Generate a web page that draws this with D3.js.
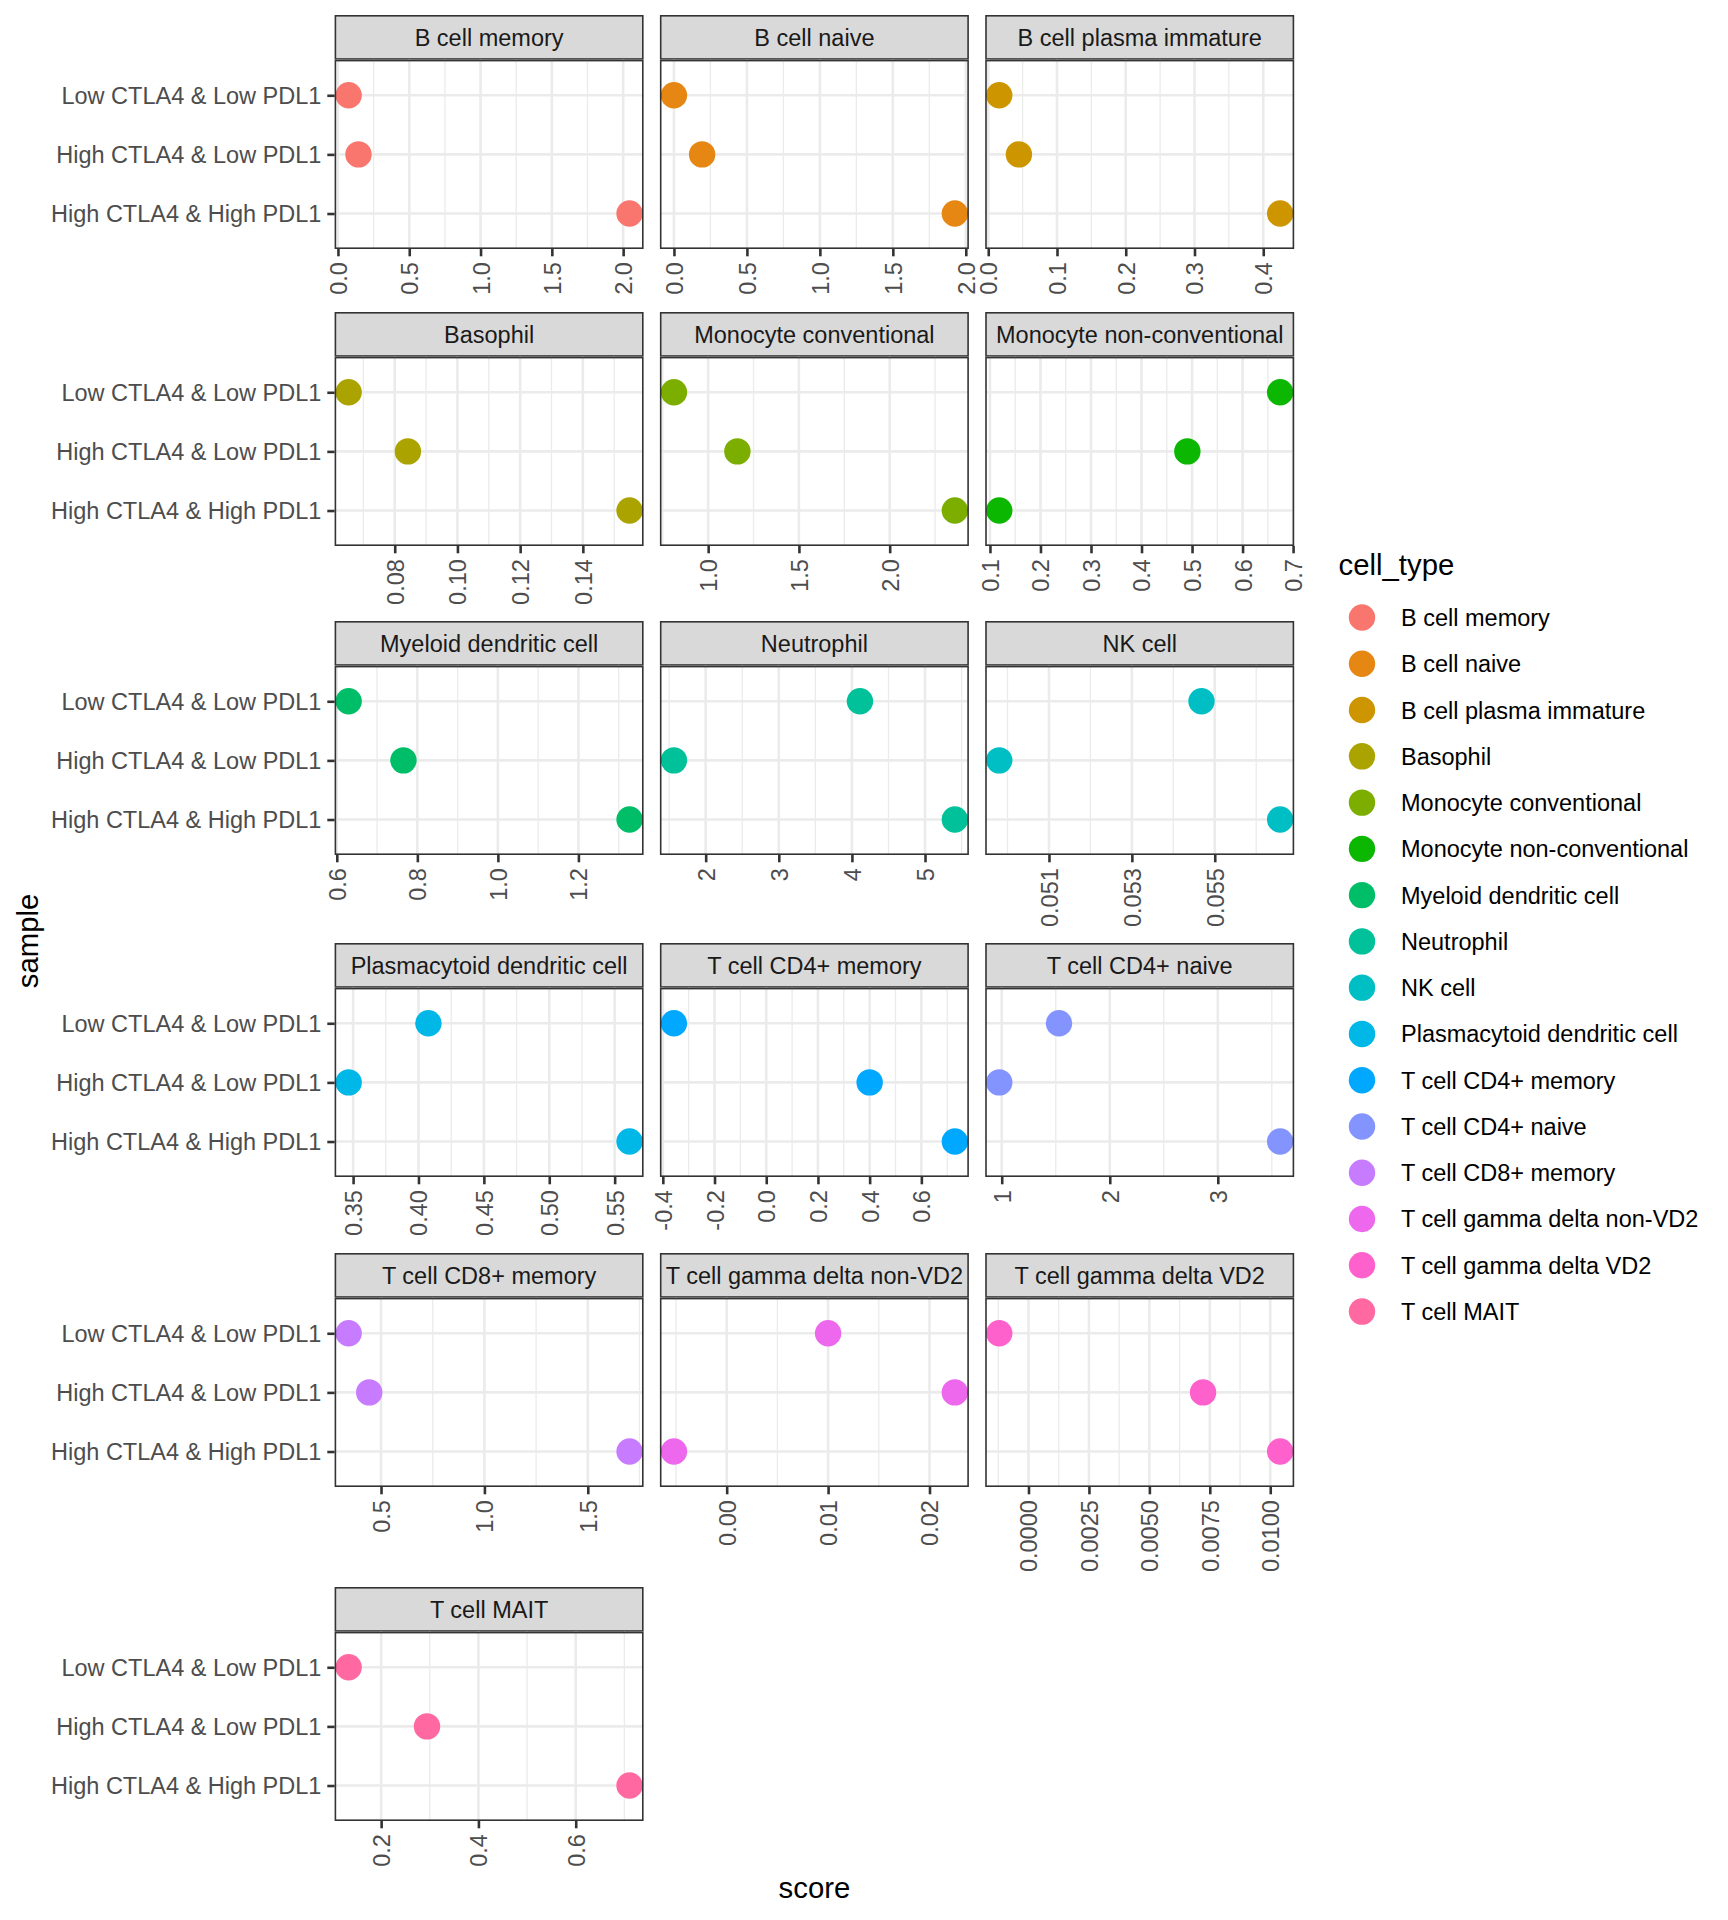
<!DOCTYPE html>
<html><head><meta charset="utf-8">
<script src="https://cdn.jsdelivr.net/npm/d3@7"></script>
<style>
body{margin:0;background:#fff}
svg text{font-family:"Liberation Sans",Arial,Helvetica,sans-serif}
</style>
</head><body>
<svg id="chart" width="1728" height="1920"></svg>
<script>
// ---------- data ----------
const samples = ["Low CTLA4 & Low PDL1", "High CTLA4 & Low PDL1", "High CTLA4 & High PDL1"];
const cellTypes = ["B cell memory","B cell naive","B cell plasma immature","Basophil","Monocyte conventional","Monocyte non-conventional","Myeloid dendritic cell","Neutrophil","NK cell","Plasmacytoid dendritic cell","T cell CD4+ memory","T cell CD4+ naive","T cell CD8+ memory","T cell gamma delta non-VD2","T cell gamma delta VD2","T cell MAIT"];
const cellColors = ["#F8766D","#E68613","#CD9600","#ABA300","#7CAE00","#0CB702","#00BE67","#00C19A","#00BFC4","#00B8E7","#00A9FF","#8494FF","#C77CFF","#ED68ED","#FF61CC","#FF68A1"];
const scoreLowLow   = [0.075, 0.000, 0.016, 0.0653, 0.8115, 0.6744, 0.6294, 4.110, 0.05468, 0.4076, -0.357, 1.530, 0.3434, 0.0100, -0.00121, 0.1332];
const scoreHighLow  = [0.144, 0.193, 0.0446, 0.0842, 1.161, 0.4907, 0.7655, 1.566, 0.0498, 0.3466, 0.400, 0.977, 0.4429, 0.0225, 0.00722, 0.2943];
const scoreHighHigh = [2.045, 1.925, 0.4246, 0.1549, 2.359, 0.1184, 1.327, 5.408, 0.056578, 0.5614, 0.7296, 3.577, 1.702, -0.0052, 0.01041, 0.7107];
const xTickLabels = [
  ["0.0","0.5","1.0","1.5","2.0"],
  ["0.0","0.5","1.0","1.5","2.0"],
  ["0.0","0.1","0.2","0.3","0.4"],
  ["0.08","0.10","0.12","0.14"],
  ["1.0","1.5","2.0"],
  ["0.1","0.2","0.3","0.4","0.5","0.6","0.7"],
  ["0.6","0.8","1.0","1.2"],
  ["2","3","4","5"],
  ["0.051","0.053","0.055"],
  ["0.35","0.40","0.45","0.50","0.55"],
  ["-0.4","-0.2","0.0","0.2","0.4","0.6"],
  ["1","2","3"],
  ["0.5","1.0","1.5"],
  ["0.00","0.01","0.02"],
  ["0.0000","0.0025","0.0050","0.0075","0.0100"],
  ["0.2","0.4","0.6"]
];
const xTitle = "score";
const yTitle = "sample";
const legendTitle = "cell_type";

// ---------- layout ----------
const svg = d3.select("#chart");
svg.append("rect").attr("width",1728).attr("height",1920).attr("fill","#fff");

const FS = 23.5, TITLE_FS = 29.3;
const colLeft0 = 334.6, panelW = 309, colGap = 16.3;
const stripH = 44.8, plotH = 189.2;
const tickLen = 7.3, tickPad = 5.9;
const rowTops = [15, 312, 621, 943, 1253, 1587];
const nCol = 3, R = 13.2;
const borderW = 1.6, majorW = 2.6, minorW = 1.3;

const y = d3.scalePoint().domain(samples).range([0, plotH]).padding(0.6);
const seriesBySample = [scoreLowLow, scoreHighLow, scoreHighHigh];

const nRows = Math.ceil(cellTypes.length / nCol);
for (let r = 0; r < nRows; r++) {
  const rowTop = rowTops[r];
  for (let c = 0; c < nCol; c++) {
    const i = r * nCol + c;
    if (i >= cellTypes.length) break;
    const x0 = colLeft0 + c * (panelW + colGap);
    const g = svg.append("g").attr("transform", `translate(${x0},${rowTop})`);

    // strip
    g.append("rect").attr("x", borderW/2).attr("y", borderW/2)
      .attr("width", panelW - borderW).attr("height", stripH - borderW)
      .attr("fill", "#D9D9D9").attr("stroke", "#333333").attr("stroke-width", borderW);
    g.append("text").attr("x", panelW/2).attr("y", stripH/2).attr("dy", "0.36em")
      .attr("text-anchor", "middle").attr("font-size", FS).attr("fill", "#1A1A1A")
      .text(cellTypes[i]);

    const p = g.append("g").attr("transform", `translate(0,${stripH})`);
    const vals = seriesBySample.map(s => s[i]);
    const ext = d3.extent(vals);
    const pad = (ext[1] - ext[0]) * 0.05;
    const x = d3.scaleLinear().domain([ext[0] - pad, ext[1] + pad]).range([0, panelW]);
    const ticks = xTickLabels[i].map(Number);
    const step = ticks[1] - ticks[0];
    const minor = [];
    for (let k = -1; k < ticks.length; k++) {
      const m = ticks[0] + (k + 0.5) * step;
      if (m >= x.domain()[0] && m <= x.domain()[1]) minor.push(m);
    }

    p.append("rect").attr("width", panelW).attr("height", plotH).attr("fill", "#fff");
    p.selectAll("line.minor").data(minor).join("line").attr("class","minor")
      .attr("x1", d => x(d)).attr("x2", d => x(d)).attr("y1", 0).attr("y2", plotH)
      .attr("stroke", "#EBEBEB").attr("stroke-width", minorW);
    p.selectAll("line.majx").data(ticks).join("line").attr("class","majx")
      .attr("x1", d => x(d)).attr("x2", d => x(d)).attr("y1", 0).attr("y2", plotH)
      .attr("stroke", "#EBEBEB").attr("stroke-width", majorW);
    p.selectAll("line.majy").data(samples).join("line").attr("class","majy")
      .attr("x1", 0).attr("x2", panelW).attr("y1", d => y(d)).attr("y2", d => y(d))
      .attr("stroke", "#EBEBEB").attr("stroke-width", majorW);

    p.selectAll("circle").data(samples.map((s, j) => ({s, v: seriesBySample[j][i]})))
      .join("circle").attr("cx", d => x(d.v)).attr("cy", d => y(d.s)).attr("r", R)
      .attr("fill", cellColors[i]);

    p.append("rect").attr("x", borderW/2).attr("y", borderW/2)
      .attr("width", panelW - borderW).attr("height", plotH - borderW)
      .attr("fill", "none").attr("stroke", "#333333").attr("stroke-width", borderW);

    // x axis
    const ax = p.append("g").attr("transform", `translate(0,${plotH})`)
      .call(d3.axisBottom(x).tickValues(ticks).tickFormat((d, j) => xTickLabels[i][j])
        .tickSize(tickLen).tickPadding(tickPad));
    ax.select(".domain").remove();
    ax.attr("font-family", null).attr("font-size", null);
    ax.selectAll(".tick line").attr("stroke", "#333333").attr("stroke-width", majorW);
    ax.selectAll(".tick text")
      .attr("transform", "rotate(-90)").attr("text-anchor", "end")
      .attr("x", -(tickLen + tickPad)).attr("y", 0).attr("dy", "0.36em")
      .attr("font-size", FS).attr("fill", "#4D4D4D");

    // y axis (left column only)
    if (c === 0) {
      const ay = p.append("g").call(d3.axisLeft(y).tickSize(tickLen).tickPadding(tickPad));
      ay.select(".domain").remove();
      ay.attr("font-family", null).attr("font-size", null);
      ay.selectAll(".tick line").attr("stroke", "#333333").attr("stroke-width", majorW);
      ay.selectAll(".tick text").attr("font-size", FS).attr("fill", "#4D4D4D").attr("dy", "0.36em");
    }
  }
}

// axis titles
const lastPlotBottom = rowTops[nRows - 1] + stripH + plotH;
const plotsCenterX = colLeft0 + (nCol * panelW + (nCol - 1) * colGap) / 2;
svg.append("text").attr("x", plotsCenterX).attr("y", lastPlotBottom + 66).attr("dy", "0.36em")
  .attr("text-anchor", "middle").attr("font-size", TITLE_FS).attr("fill", "#000").text(xTitle);
svg.append("text")
  .attr("transform", `translate(27,${(rowTops[0] + lastPlotBottom + 46) / 2}) rotate(-90)`)
  .attr("dy", "0.36em").attr("text-anchor", "middle").attr("font-size", TITLE_FS)
  .attr("fill", "#000").text(yTitle);

// legend
const leg = svg.append("g").attr("transform", "translate(1338.6,0)");
leg.append("text").attr("x", 0).attr("y", 575).attr("font-size", TITLE_FS).attr("fill", "#000").text(legendTitle);
const ly = d3.scalePoint().domain(cellTypes).range([617.5, 617.5 + 46.27 * (cellTypes.length - 1)]);
const items = leg.selectAll("g.item").data(cellTypes).join("g").attr("class", "item")
  .attr("transform", d => `translate(0,${ly(d)})`);
items.append("circle").attr("cx", 23.4).attr("cy", 0).attr("r", R).attr("fill", (d, j) => cellColors[j]);
items.append("text").attr("x", 62.4).attr("y", 0).attr("dy", "0.36em").attr("font-size", FS)
  .attr("fill", "#000").text(d => d);
</script>
</body></html>
